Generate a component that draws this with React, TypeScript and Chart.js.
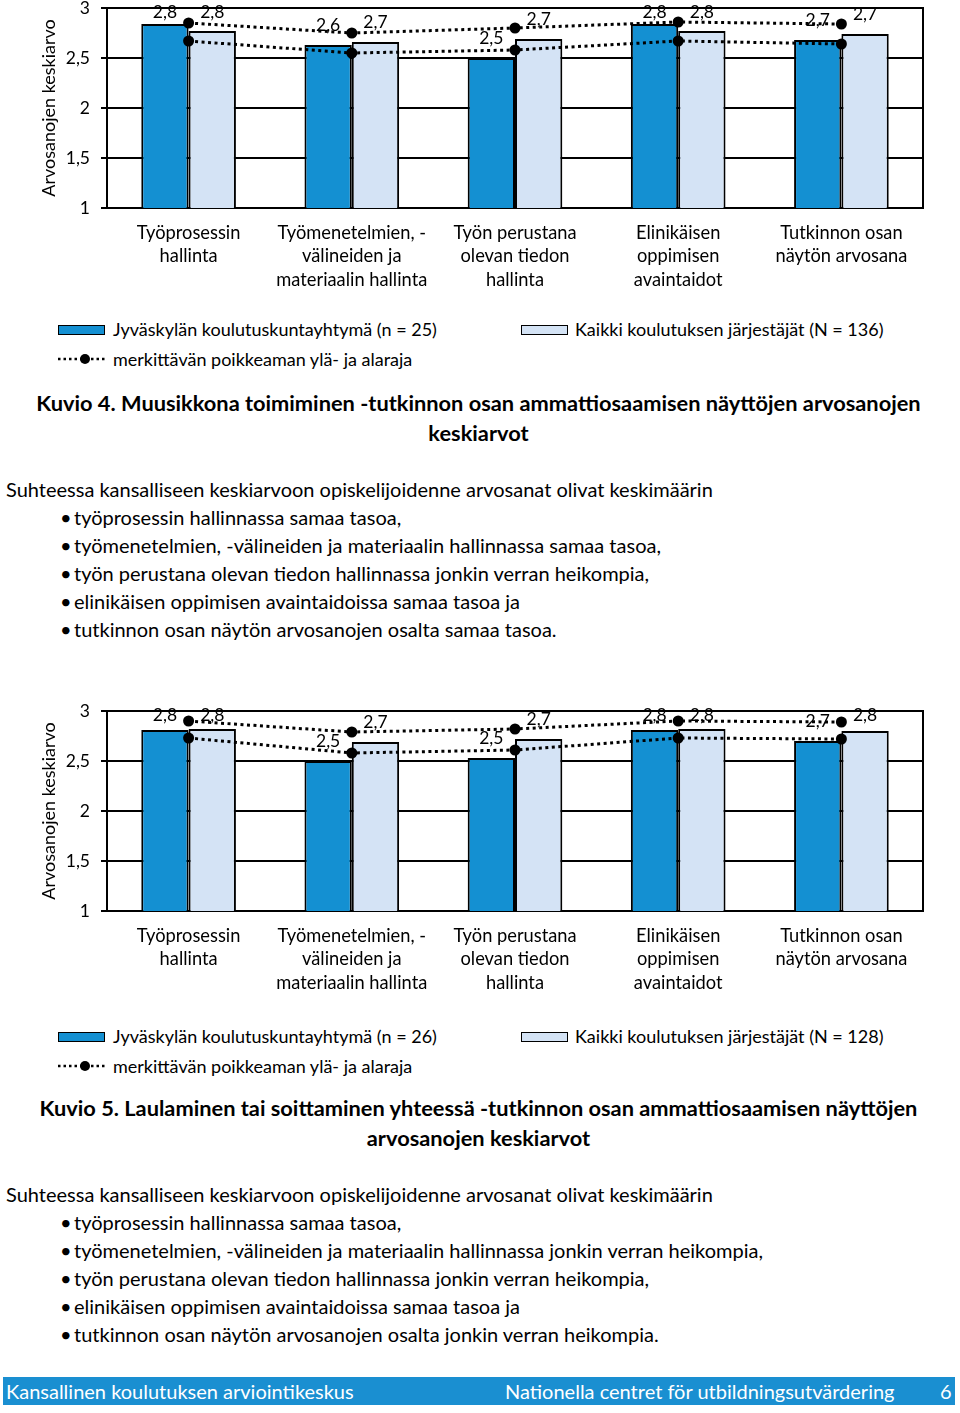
import React, { useEffect, useRef } from "react";
import { Chart, registerables } from "chart.js";

Chart.register(...registerables);

const FONT = "Lato, 'Open Sans', sans-serif";
const DARK = "#1490d2";
const LIGHT = "#d4e3f5";
const FOOTER_BLUE = "#1a8fd1";

const categories = [
  ["Työprosessin", "hallinta"],
  ["Työmenetelmien, -", "välineiden ja", "materiaalin hallinta"],
  ["Työn perustana", "olevan tiedon", "hallinta"],
  ["Elinikäisen", "oppimisen", "avaintaidot"],
  ["Tutkinnon osan", "näytön arvosana"],
];

const yMin = 1;
const yMax = 3;
const yStep = 0.5;

// Kuvio 4
const chart1Jyvaskyla = [2.84, 2.63, 2.5, 2.84, 2.68];
const chart1Kaikki = [2.77, 2.66, 2.69, 2.77, 2.74];
const chart1Upper = [2.85, 2.75, 2.8, 2.86, 2.84];
const chart1Lower = [2.67, 2.55, 2.58, 2.67, 2.64];

// Kuvio 5
const chart2Jyvaskyla = [2.81, 2.5, 2.53, 2.81, 2.7];
const chart2Kaikki = [2.82, 2.69, 2.72, 2.82, 2.8];
const chart2Upper = [2.9, 2.79, 2.82, 2.9, 2.89];
const chart2Lower = [2.73, 2.58, 2.61, 2.73, 2.72];

const fmt = (v: number) => v.toFixed(1).replace(".", ",");

const framePlugin = {
  id: "frame",
  beforeDatasetsDraw(chart: any) {
    const { ctx, chartArea: a } = chart;
    ctx.save();
    ctx.strokeStyle = "#000";
    ctx.lineWidth = 2;
    ctx.strokeRect(a.left, a.top, a.right - a.left, a.bottom - a.top);
    ctx.restore();
  },
};

const barLabelPlugin = {
  id: "barLabels",
  afterDatasetsDraw(chart: any) {
    const { ctx, chartArea: a } = chart;
    ctx.save();
    ctx.font = `17.5px ${FONT}`;
    ctx.fillStyle = "#000";
    ctx.textAlign = "center";
    ctx.textBaseline = "middle";
    chart.data.datasets.forEach((ds: any, i: number) => {
      if (ds.type === "line") return;
      const meta = chart.getDatasetMeta(i);
      meta.data.forEach((el: any, j: number) => {
        const y = Math.max(el.y - 20, a.top + 4);
        ctx.fillText(fmt(ds.data[j]), el.x, y);
      });
    });
    ctx.restore();
  },
};

function lineDs(data: number[], label: string) {
  return {
    type: "line" as const,
    label,
    data,
    borderColor: "#000",
    backgroundColor: "#000",
    borderWidth: 3,
    borderDash: [3, 3.5],
    pointRadius: 5.5,
    pointBackgroundColor: "#000",
    pointBorderWidth: 0,
    tension: 0,
    fill: false,
    order: 0,
  };
}

function barDs(data: number[], label: string, color: string) {
  return {
    type: "bar" as const,
    label,
    data,
    backgroundColor: color,
    borderColor: "#000",
    borderWidth: 2,
    categoryPercentage: 0.58,
    barPercentage: 1,
    order: 1,
  };
}

function BarChart(props: {
  dark: number[];
  light: number[];
  upper: number[];
  lower: number[];
  top: number;
}) {
  const ref = useRef<HTMLCanvasElement | null>(null);
  useEffect(() => {
    const chart = new Chart(ref.current as HTMLCanvasElement, {
      type: "bar",
      data: {
        labels: categories as any,
        datasets: [
          lineDs(props.upper, "yläraja"),
          lineDs(props.lower, "alaraja"),
          barDs(props.dark, "Jyväskylän koulutuskuntayhtymä", DARK),
          barDs(props.light, "Kaikki koulutuksen järjestäjät", LIGHT),
        ] as any,
      },
      options: {
        responsive: false,
        animation: false,
        layout: { padding: { top: 28, right: 37, left: 0, bottom: 0 } },
        plugins: { legend: { display: false }, tooltip: { enabled: false } },
        scales: {
          x: {
            grid: { display: false, drawTicks: false },
            border: { display: false },
            ticks: {
              font: { family: FONT, size: 18.3, lineHeight: 1.29 },
              color: "#000",
              padding: 13,
              maxRotation: 0,
              autoSkip: false,
            },
            afterFit: (s: any) => {
              s.height = 92;
            },
          },
          y: {
            min: yMin,
            max: yMax,
            ticks: {
              stepSize: yStep,
              font: { family: FONT, size: 17.5 },
              color: "#000",
              padding: 11,
              callback: (v: any) => String(v).replace(".", ","),
            },
            grid: { color: "#000", lineWidth: 2, tickLength: 6, drawTicks: true },
            border: { color: "#000", width: 2 },
            title: {
              display: true,
              text: "Arvosanojen keskiarvo",
              font: { family: FONT, size: 18 },
              color: "#000",
              padding: { top: 38, bottom: 0 },
            },
            afterFit: (s: any) => {
              s.width = 107;
            },
          },
        },
      } as any,
      plugins: [framePlugin, barLabelPlugin],
    });
    return () => chart.destroy();
  }, []);
  return (
    <canvas
      ref={ref}
      width={960}
      height={320}
      style={{ position: "absolute", left: 0, top: props.top, width: 960, height: 320 }}
    />
  );
}

function Legend(props: { top: number; n: number; N: number }) {
  const t = props.top;
  const txt: React.CSSProperties = {
    position: "absolute",
    fontSize: 18,
    lineHeight: "20px",
    whiteSpace: "nowrap",
    color: "#000",
  };
  return (
    <>
      <div style={{ position: "absolute", left: 58, top: t - 4, width: 45, height: 8, background: DARK, border: "1.5px solid #000" }} />
      <div style={{ ...txt, left: 113, top: t - 10 }}>Jyväskylän koulutuskuntayhtymä (n = {props.n})</div>
      <div style={{ position: "absolute", left: 521, top: t - 4, width: 45, height: 8, background: LIGHT, border: "1.5px solid #000" }} />
      <div style={{ ...txt, left: 575, top: t - 10 }}>Kaikki koulutuksen järjestäjät (N = {props.N})</div>
      <svg style={{ position: "absolute", left: 56, top: t + 30 - 6 }} width={52} height={12}>
        <line x1={2} y1={6} x2={50} y2={6} stroke="#000" strokeWidth={2.5} strokeDasharray="2.5 3" />
        <circle cx={29} cy={6} r={5} fill="#000" />
      </svg>
      <div style={{ ...txt, left: 113, top: t + 30 - 10 }}>merkittävän poikkeaman ylä- ja alaraja</div>
    </>
  );
}

function Caption(props: { top: number; lines: string[] }) {
  return (
    <div
      style={{
        position: "absolute",
        left: 0,
        top: props.top - 15,
        width: 957,
        textAlign: "center",
        fontWeight: 700,
        fontSize: 21.8,
        lineHeight: "30px",
        color: "#000",
        whiteSpace: "nowrap",
      }}
    >
      {props.lines.map((l, i) => (
        <div key={i}>{l}</div>
      ))}
    </div>
  );
}

function Body(props: { top: number; intro: string; bullets: string[] }) {
  return (
    <div style={{ position: "absolute", left: 6, top: props.top - 14, fontSize: 20, lineHeight: "28px", color: "#000", whiteSpace: "nowrap" }}>
      <div>{props.intro}</div>
      {props.bullets.map((b, i) => (
        <div key={i} style={{ position: "relative", paddingLeft: 68 }}>
          <span style={{ position: "absolute", left: 54 }}>•</span>
          {b}
        </div>
      ))}
    </div>
  );
}

const intro = "Suhteessa kansalliseen keskiarvoon opiskelijoidenne arvosanat olivat keskimäärin";
const bullets1 = [
  "työprosessin hallinnassa samaa tasoa,",
  "työmenetelmien, -välineiden ja materiaalin hallinnassa samaa tasoa,",
  "työn perustana olevan tiedon hallinnassa jonkin verran heikompia,",
  "elinikäisen oppimisen avaintaidoissa samaa tasoa ja",
  "tutkinnon osan näytön arvosanojen osalta samaa tasoa.",
];
const bullets2 = [
  "työprosessin hallinnassa samaa tasoa,",
  "työmenetelmien, -välineiden ja materiaalin hallinnassa jonkin verran heikompia,",
  "työn perustana olevan tiedon hallinnassa jonkin verran heikompia,",
  "elinikäisen oppimisen avaintaidoissa samaa tasoa ja",
  "tutkinnon osan näytön arvosanojen osalta jonkin verran heikompia.",
];

export default function App() {
  return (
    <div style={{ position: "absolute", left: 0, top: 0, width: 960, height: 1413, background: "#fff", fontFamily: FONT, overflow: "hidden" }}>
      <BarChart dark={chart1Jyvaskyla} light={chart1Kaikki} upper={chart1Upper} lower={chart1Lower} top={-20} />
      <Legend top={329} n={25} N={136} />
      <Caption top={403} lines={["Kuvio 4. Muusikkona toimiminen -tutkinnon osan ammattiosaamisen näyttöjen arvosanojen", "keskiarvot"]} />
      <Body top={489} intro={intro} bullets={bullets1} />

      <BarChart dark={chart2Jyvaskyla} light={chart2Kaikki} upper={chart2Upper} lower={chart2Lower} top={683} />
      <Legend top={1036} n={26} N={128} />
      <Caption top={1108} lines={["Kuvio 5. Laulaminen tai soittaminen yhteessä -tutkinnon osan ammattiosaamisen näyttöjen", "arvosanojen keskiarvot"]} />
      <Body top={1194} intro={intro} bullets={bullets2} />

      <div style={{ position: "absolute", left: 3, top: 1377, width: 952, height: 28, background: FOOTER_BLUE, color: "#fff", fontSize: 20, lineHeight: "28px", whiteSpace: "nowrap" }}>
        <span style={{ position: "absolute", left: 3 }}>Kansallinen koulutuksen arviointikeskus</span>
        <span style={{ position: "absolute", left: 502 }}>Nationella centret för utbildningsutvärdering</span>
        <span style={{ position: "absolute", left: 937 }}>6</span>
      </div>
    </div>
  );
}
